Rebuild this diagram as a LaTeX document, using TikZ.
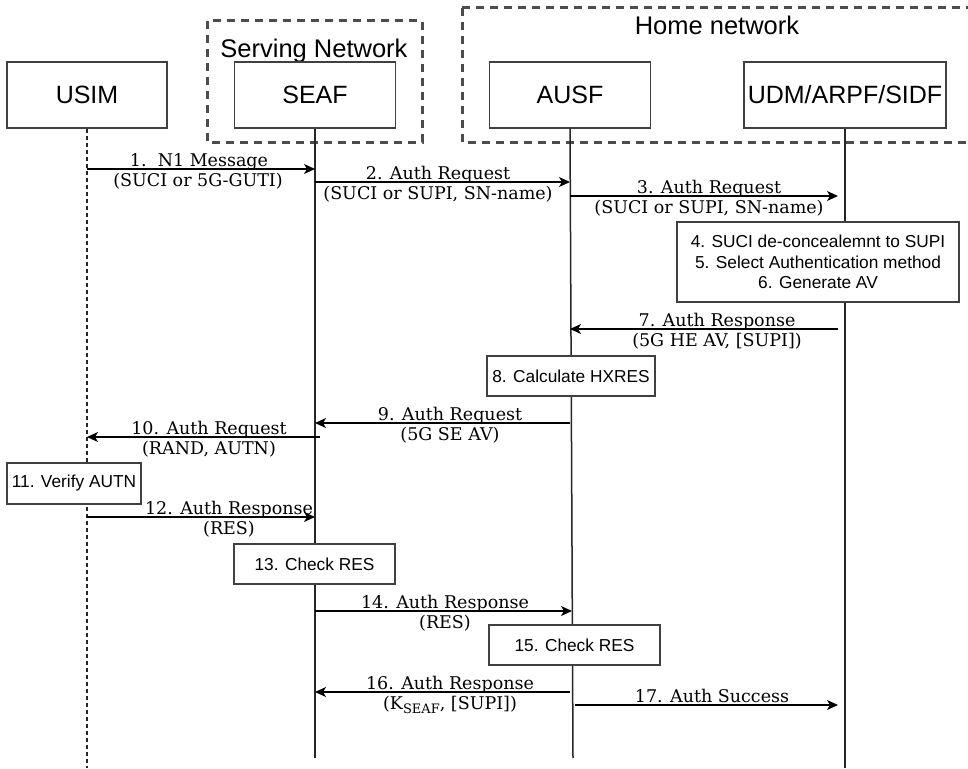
\documentclass[tikz,border=0pt]{standalone}
\usepackage{fontspec}
\setmainfont{DejaVu Serif}
\newfontfamily\boxfont{Liberation Sans}
\usetikzlibrary{arrows.meta,calc}

\begin{document}
\begin{tikzpicture}[x=1pt,y=-1pt,
  entity/.style={draw=black!75, line width=1.4pt, fill=white, minimum height=66pt,
    inner sep=0pt, font=\boxfont\fontsize{25}{29}\selectfont},
  stepbox/.style={draw=black!75, line width=1.4pt, fill=white, inner sep=0pt,
    align=center, font=\boxfont\fontsize{17.3}{20.5}\selectfont},
  zone/.style={draw=black!70, line width=3pt, dash pattern=on 8pt off 6pt},
  zonetitle/.style={anchor=base, inner sep=0pt, font=\boxfont\fontsize{25.5}{29}\selectfont},
  life/.style={draw=black!85, line width=1.5pt},
  simlife/.style={draw=black!85, line width=1.5pt, dash pattern=on 4pt off 3pt},
  msg/.style={draw=black, line width=1.4pt, -{Stealth[length=11pt,width=10pt,inset=3pt]}},
  msgtop/.style={anchor=base, yshift=3pt, inner sep=0pt, font=\fontsize{17.5}{20}\selectfont},
  msgbot/.style={anchor=base, yshift=-17.5pt, inner sep=0pt, font=\fontsize{17.5}{20}\selectfont},
]
\useasboundingbox (0,0) rectangle (968,768);
\clip (0,0) rectangle (968,768);
\fill[white] (0,0) rectangle (968,768);

% network domains
\draw[zone] (207,21) rectangle (422,142);
\node[zonetitle] (sntitle) at (314,57) {Serving Network};
\draw[zone] (462,8) rectangle (990,142);
\node[zonetitle] (hntitle) at (717,35) {Home network};

% entities
\node[entity, minimum width=160pt] (usim) at (87,95) {USIM};
\node[entity, minimum width=161pt] (seaf) at (315,95) {SEAF};
\node[entity, minimum width=161pt] (ausf) at (570,95) {AUSF};
\node[entity, minimum width=202pt] (udm)  at (845,95) {UDM/ARPF/SIDF};

% lifelines
\coordinate (usimEnd) at (87,768);
\coordinate (seafEnd) at (315,758);
\coordinate (ausfEnd) at (573,758);
\coordinate (udmEnd)  at (845,768);
\draw[simlife] (usim.south) -- (usimEnd);
\draw[life] (seaf.south) -- (seafEnd);
\draw[life] (ausf.south) -- (ausfEnd);
\draw[life] (udm.south) -- (udmEnd);

% local processing steps
\node[stepbox, minimum width=282pt, minimum height=80pt] (s456) at (818,262)
  {4. SUCI de-concealemnt to SUPI\\5. Select Authentication method\\6. Generate AV};
\node[stepbox, minimum width=168pt, minimum height=40pt] (s8) at (571,376) {8. Calculate HXRES};
\node[stepbox, minimum width=134pt, minimum height=41pt] (s11) at (74,483.5) {11. Verify AUTN};
\node[stepbox, minimum width=161pt, minimum height=40pt] (s13) at (314.5,564) {13. Check RES};
\node[stepbox, minimum width=171pt, minimum height=40pt] (s15) at (574.5,645) {15. Check RES};

% 1
\draw[msg] (usim.center |- 0,169) -- (seaf.center |- 0,169);
\node[msgtop] (l1a) at (199,169) {1.\ \ N1 Message};
\node[msgbot] (l1b) at (198,169) {(SUCI or 5G-GUTI)};
% 2
\draw[msg] (seaf.center |- 0,182) -- (ausf.center |- 0,182);
\node[msgtop] (l2a) at (438,182) {2. Auth Request};
\node[msgbot] (l2b) at (438,182) {(SUCI or SUPI, SN-name)};
% 3
\draw[msg] (ausf.center |- 0,196) -- ($(udm.center |- 0,196)+(-7,0)$);
\node[msgtop] (l3a) at (709,196) {3. Auth Request};
\node[msgbot] (l3b) at (709,196) {(SUCI or SUPI, SN-name)};
% 7
\draw[msg] ($(udm.center |- 0,329)+(-7,0)$) -- (ausf.center |- 0,329);
\node[msgtop] (l7a) at (717,329) {7. Auth Response};
\node[msgbot] (l7b) at (717,329) {(5G HE AV, [SUPI])};
% 9
\draw[msg] (ausf.center |- 0,423) -- (seaf.center |- 0,423);
\node[msgtop] (l9a) at (450,423) {9. Auth Request};
\node[msgbot] (l9b) at (450,423) {(5G SE AV)};
% 10
\draw[msg] ($(seaf.center |- 0,437)+(5,0)$) -- (usim.center |- 0,437);
\node[msgtop] (l10a) at (209,437) {10. Auth Request};
\node[msgbot] (l10b) at (209,437) {(RAND, AUTN)};
% 12
\draw[msg] (usim.center |- 0,517) -- (seaf.center |- 0,517);
\node[msgtop] (l12a) at (229,517) {12. Auth Response};
\node[msgbot] (l12b) at (229,517) {(RES)};
% 14
\draw[msg] (seaf.center |- 0,611) -- ($(ausf.center |- 0,611)+(2,0)$);
\node[msgtop] (l14a) at (445,611) {14. Auth Response};
\node[msgbot] (l14b) at (445,611) {(RES)};
% 16
\draw[msg] (ausf.center |- 0,692) -- (seaf.center |- 0,692);
\node[msgtop] (l16a) at (450,692) {16. Auth Response};
\node[msgbot] (l16b) at (450,692)
  {(K\raisebox{-3.5pt}{\fontsize{13}{13}\selectfont SEAF}, [SUPI])};
% 17
\draw[msg] ($(ausf.center |- 0,705)+(5,0)$) -- ($(udm.center |- 0,705)+(-7,0)$);
\node[msgtop] (l17a) at (712,705) {17. Auth Success};
\end{tikzpicture}
\end{document}
